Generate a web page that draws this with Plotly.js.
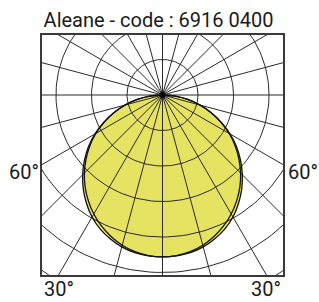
<!DOCTYPE html>
<html><head><meta charset="utf-8">
<script src="https://cdn.plot.ly/plotly-3.0.1.min.js"></script>
<style>html,body{margin:0;padding:0;background:#fff}#chart{width:319px;height:302px}</style>
</head><body><div id="chart"></div>
<script>
// ---- data ----
const chartTitle = 'Aleane - code : 6916 0400';
const gammaDeg = [0,5,10,15,20,25,30,35,40,45,50,55,60,65,70,75,80,85,90];
const intensityC0  = [456,454,448,438,424,407,387,364,339,311,281,250,217,181,145,109,72,36,0];
const intensityC90 = [456,455,451,443,431,416,397,373,347,318,287,255,220,183,146,110,72,36,0];
const gridRadii = [100,200,300,400,500,600];
const rayAngles = [0,15,30,45,60,75,90,105,120,135,150,165,180];
const sideLabel = '60°';
const cornerLabel = '30°';

const rad = d => d*Math.PI/180;
function curveXY(I){
  const xs=[], ys=[];
  for(let i=0;i<gammaDeg.length;i++){xs.push(I[i]*Math.sin(rad(gammaDeg[i])));ys.push(-I[i]*Math.cos(rad(gammaDeg[i])));}
  for(let i=gammaDeg.length-1;i>=0;i--){xs.push(-I[i]*Math.sin(rad(gammaDeg[i])));ys.push(-I[i]*Math.cos(rad(gammaDeg[i])));}
  return {xs,ys};
}
const c0 = curveXY(intensityC0), c90 = curveXY(intensityC90);

const gx=[], gy=[];
gridRadii.forEach(r=>{for(let a=0;a<=360;a+=2){gx.push(r*Math.cos(rad(a)));gy.push(r*Math.sin(rad(a)));}gx.push(null);gy.push(null);});
const R=2000;
rayAngles.forEach(a=>{
  gx.push(0,R*Math.sin(rad(a)),null); gy.push(0,-R*Math.cos(rad(a)),null);
  gx.push(0,-R*Math.sin(rad(a)),null); gy.push(0,-R*Math.cos(rad(a)),null);
});

const fillCol='rgb(231,227,98)';
const traces=[
  {x:c90.xs,y:c90.ys,mode:'lines',fill:'toself',fillcolor:fillCol,line:{width:0,color:fillCol,shape:'spline'},hoverinfo:'skip'},
  {x:c0.xs,y:c0.ys,mode:'lines',fill:'toself',fillcolor:fillCol,line:{width:0,color:fillCol,shape:'spline'},hoverinfo:'skip'},
  {x:gx,y:gy,mode:'lines',line:{color:'#2a2a2a',width:1},hoverinfo:'skip'},
  {x:c90.xs,y:c90.ys,mode:'lines',line:{color:'#111',width:1.3,shape:'spline'},hoverinfo:'skip'},
  {x:c0.xs,y:c0.ys,mode:'lines',line:{color:'#111',width:1.3,shape:'spline'},hoverinfo:'skip'},
  {x:[0],y:[0],mode:'markers',marker:{color:'#000',size:6},hoverinfo:'skip'}
];
const font='Roboto, "Liberation Sans", Arial, sans-serif';
const ax={showgrid:false,zeroline:false,showticklabels:false,ticks:'',showline:true,mirror:true,linecolor:'#3a3a3a',linewidth:2,fixedrange:true};
const layout={
  width:319,height:302,margin:{l:42,r:36,t:35,b:27},
  paper_bgcolor:'#fff',plot_bgcolor:'#fff',showlegend:false,
  title:{text:chartTitle,font:{family:font,size:20,color:'#1a1a1a'},x:0.497,xref:'container',xanchor:'center',y:0.935,yref:'container',yanchor:'middle'},
  xaxis:Object.assign({range:[-339.4,339.4]},ax),
  yaxis:Object.assign({range:[-507,169]},ax),
  annotations:[
    {text:sideLabel,xref:'paper',yref:'paper',x:-0.005,y:0.429,xanchor:'right',yanchor:'middle',showarrow:false,font:{family:font,size:20,color:'#1a1a1a'}},
    {text:sideLabel,xref:'paper',yref:'paper',x:1.012,y:0.429,xanchor:'left',yanchor:'middle',showarrow:false,font:{family:font,size:20,color:'#1a1a1a'}},
    {text:cornerLabel,xref:'paper',yref:'paper',x:0.0,y:-0.06,xanchor:'left',yanchor:'middle',showarrow:false,font:{family:font,size:20,color:'#1a1a1a'}},
    {text:cornerLabel,xref:'paper',yref:'paper',x:1.0,y:-0.06,xanchor:'right',yanchor:'middle',showarrow:false,font:{family:font,size:20,color:'#1a1a1a'}}
  ]
};
Plotly.newPlot('chart',traces,layout,{staticPlot:true,displayModeBar:false});
</script></body></html>
